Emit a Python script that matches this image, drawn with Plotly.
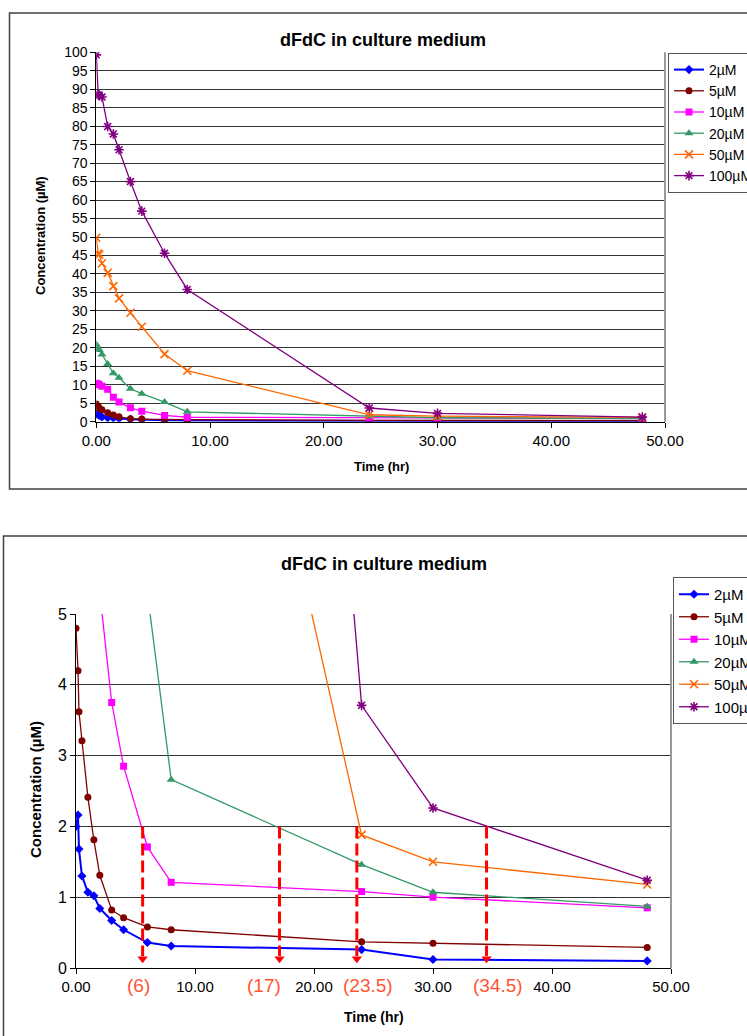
import plotly.graph_objects as go

# ---------------- data ----------------
time_hr = [0, 0.17, 0.25, 0.5, 1, 1.5, 2, 3, 4, 6, 8, 24, 30, 48]
series_names = ["2µM", "5µM", "10µM", "20µM", "50µM", "100µM"]
c_2uM = [2.0, 2.16, 1.68, 1.30, 1.07, 1.02, 0.84, 0.67, 0.54, 0.36, 0.31, 0.26, 0.12, 0.10]
c_5uM = [4.80, 4.20, 3.62, 3.21, 2.41, 1.81, 1.31, 0.82, 0.71, 0.58, 0.54, 0.37, 0.35, 0.29]
c_10uM = [10.4, 10.2, 10.0, 9.6, 8.8, 6.6, 5.3, 3.75, 2.85, 1.71, 1.21, 1.08, 1.00, 0.85]
c_20uM = [20.9, 19.8, 19.4, 18.2, 15.6, 13.1, 11.9, 8.9, 7.6, 5.3, 2.66, 1.46, 1.07, 0.87]
c_50uM = [49.8, 45.5, 45.2, 42.9, 40.3, 36.7, 33.4, 29.5, 25.7, 18.3, 13.8, 1.88, 1.50, 1.18]
c_100uM = [99.3, 88.5, 88.4, 87.9, 79.9, 77.9, 73.6, 65.0, 57.0, 45.6, 35.8, 3.71, 2.26, 1.24]
series_values = [c_2uM, c_5uM, c_10uM, c_20uM, c_50uM, c_100uM]

# half-concentration crossing times marked in the zoomed chart
arrow_x = [5.6, 17.1, 23.6, 34.5]
arrow_from = 2
arrow_labels = ["(6)", "(17)", "(23.5)", "(34.5)"]

# ---------------- styles ----------------
colors = ["#0000FF", "#800000", "#FF00FF", "#339966", "#FF6600", "#800080"]
symbols = ["diamond", "circle", "square", "triangle-up", "x-thin", "asterisk"]
msizes = [7, 7, 7, 8, 8, 8]
lwidths = [2, 1.3, 1.3, 1.3, 1.3, 1.3]
label_xshift = [-4, -15, 11, 11]

W, H = 747, 1036
FONT = "Arial, Liberation Sans, sans-serif"


def px_x(p):
    return p / W


def px_y(p):
    return 1 - p / H


fig = go.Figure()

for k, (name, vals) in enumerate(zip(series_names, series_values)):
    open_sym = symbols[k] in ("x-thin", "asterisk")
    marker = dict(symbol=symbols[k], size=msizes[k], color=colors[k],
                  line=dict(color=colors[k], width=1.6 if open_sym else 0))
    fig.add_trace(go.Scatter(x=time_hr, y=vals, name=name, mode="lines+markers",
                             line=dict(color=colors[k], width=lwidths[k]),
                             marker=marker, xaxis="x", yaxis="y", legend="legend"))
    fig.add_trace(go.Scatter(x=time_hr, y=vals, name=name, mode="lines+markers",
                             line=dict(color=colors[k], width=lwidths[k]),
                             marker=marker, xaxis="x2", yaxis="y2", legend="legend2"))

# arrowheads
fig.add_trace(go.Scatter(x=arrow_x, y=[0.13] * len(arrow_x), mode="markers",
                         marker=dict(symbol="triangle-down", size=9, color="#FF0000"),
                         xaxis="x2", yaxis="y2", showlegend=False, hoverinfo="skip",
                         cliponaxis=False))

shapes = []
for ax in arrow_x:
    shapes.append(dict(type="line", xref="x2", yref="y2", x0=ax, x1=ax,
                       y0=arrow_from, y1=0.17,
                       line=dict(color="#FF0000", width=3, dash="12px,5px")))

# plot-area right borders
for xr, yr in (("x", "y"), ("x2", "y2")):
    shapes.append(dict(type="line", xref=xr + " domain", yref=yr + " domain",
                       x0=1, x1=1, y0=0, y1=1, line=dict(color="#9a9a9a", width=2)))

# outer chart boxes
shapes.append(dict(type="rect", xref="paper", yref="paper",
                   x0=px_x(9.5), x1=px_x(770), y0=px_y(489), y1=px_y(13),
                   line=dict(color="#404040", width=1.5), layer="below"))
shapes.append(dict(type="rect", xref="paper", yref="paper",
                   x0=px_x(3.5), x1=px_x(770), y0=px_y(1060), y1=px_y(536),
                   line=dict(color="#404040", width=1.5), layer="below"))


def ann(text, x, y, size, angle=0):
    return dict(text=text, xref="paper", yref="paper", x=px_x(x), y=px_y(y),
                xanchor="center", yanchor="middle", showarrow=False, textangle=angle,
                font=dict(family=FONT, size=size, color="#000"))


annotations = [
    ann("<b>dFdC in culture medium</b>", 383, 40, 18),
    ann("<b>dFdC in culture medium</b>", 384, 564, 18),
    ann("<b>Concentration (µM)</b>", 40, 236, 13, -90),
    ann("<b>Concentration (µM)</b>", 35, 790, 15, -90),
    ann("<b>Time (hr)</b>", 381, 466, 13),
    ann("<b>Time (hr)</b>", 374, 1017, 14),
]
for ax, lab, sh in zip(arrow_x, arrow_labels, label_xshift):
    annotations.append(dict(text=lab, xref="x2", yref="y2", x=ax, y=0,
                            xanchor="center", yanchor="middle",
                            yshift=-17, xshift=sh, showarrow=False,
                            font=dict(family=FONT, size=19, color="#FF5533")))

axis_common = dict(showline=True, linecolor="#000", linewidth=1, ticks="outside",
                   ticklen=5, tickcolor="#000", zeroline=False, automargin=False,
                   tickfont=dict(family=FONT, size=15, color="#000"))

fig.update_layout(
    width=W, height=H,
    margin=dict(l=0, r=0, t=0, b=0, pad=0, autoexpand=False),
    paper_bgcolor="white", plot_bgcolor="white",
    xaxis=dict(domain=[px_x(96.3), px_x(665)], range=[0, 50], dtick=10,
               tickformat=".2f", showgrid=False, anchor="y", **axis_common),
    yaxis=dict(domain=[px_y(421.7), px_y(52.3)], range=[0, 100], dtick=5,
               showgrid=True, gridcolor="#333", gridwidth=1, anchor="x",
               **{**axis_common, "tickfont": dict(family=FONT, size=14, color="#000")}),
    xaxis2=dict(domain=[px_x(76), px_x(671)], range=[0, 50], dtick=10,
                tickformat=".2f", showgrid=False, anchor="y2", **axis_common),
    yaxis2=dict(domain=[px_y(968), px_y(614)], range=[0, 5], dtick=1,
                showgrid=True, gridcolor="#333", gridwidth=1, anchor="x2",
                **{**axis_common, "tickfont": dict(family=FONT, size=16, color="#000")}),
    legend=dict(x=px_x(668), y=px_y(53), xanchor="left", yanchor="top",
                bordercolor="#555", borderwidth=1, bgcolor="white",
                font=dict(family=FONT, size=14, color="#000"), itemwidth=30,
                tracegroupgap=0),
    legend2=dict(x=px_x(673), y=px_y(577), xanchor="left", yanchor="top",
                 bordercolor="#555", borderwidth=1, bgcolor="white",
                 font=dict(family=FONT, size=15, color="#000"), itemwidth=30,
                 tracegroupgap=0),
    shapes=shapes,
    annotations=annotations,
    showlegend=True,
)

fig.write_html("out.html", config={"displayModeBar": False})
